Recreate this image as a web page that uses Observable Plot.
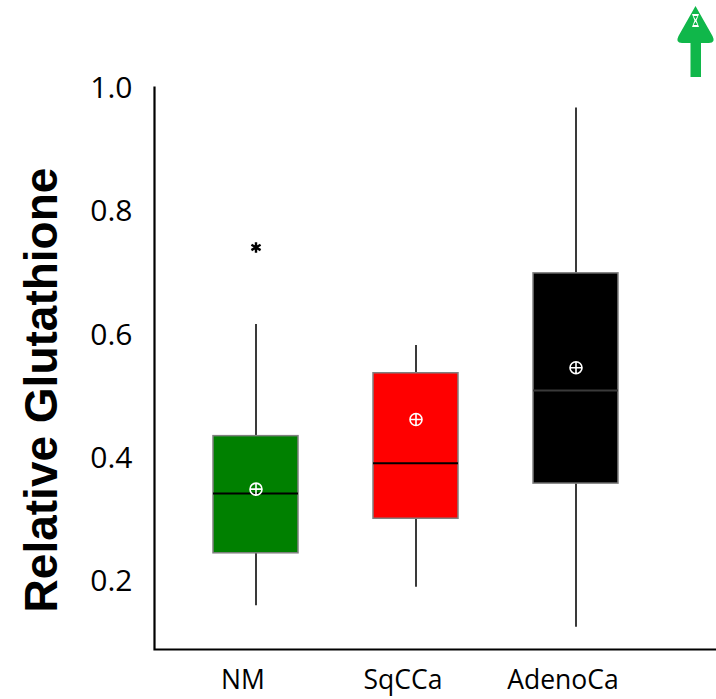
<!DOCTYPE html>
<html>
<head>
<meta charset="utf-8">
<script src="https://cdn.jsdelivr.net/npm/d3@7"></script>
<script src="https://cdn.jsdelivr.net/npm/@observablehq/plot@0.6"></script>
<style>
  html, body { margin: 0; padding: 0; background: #fff; }
  #wrap { position: relative; width: 716px; height: 699px; }
  #arrow { position: absolute; left: 0; top: 0; }
</style>
</head>
<body>
<div id="wrap">
  <div id="chart"></div>
  <svg id="arrow" width="716" height="90" viewBox="0 0 716 90">
    <path d="M695.5,6 L712.5,36 Q716,43 709,43 L701,43 L701,77 L690.5,77 L690.5,43 L682,43 Q675,43 678.5,36 Z" fill="#10b74a"/>
    <path d="M692,14 L699,14 L696.5,20.5 L699,27 L692,27 L694.5,20.5 Z" fill="#fff"/>
    <path d="M693.5,16 L697.5,16 L695.5,19.5 Z M693.5,25 L697.5,25 L695.5,21.5 Z" fill="#10b74a"/>
  </svg>
</div>
<script>
const categories = ["NM", "SqCCa", "AdenoCa"];
const whiskerLow = [0.161, 0.191, 0.126];
const q1 = [0.246, 0.302, 0.359];
const median = [0.343, 0.392, 0.510];
const q3 = [0.436, 0.538, 0.700];
const whiskerHigh = [0.617, 0.583, 0.968];
const mean = [0.350, 0.463, 0.547];
const outlierCategory = ["NM"];
const outlierValue = [0.742];
const boxColors = ["#008000", "#ff0000", "#000000"];
const medianColors = ["#000000", "#000000", "#3a3a3a"];
const yTicks = [0.2, 0.4, 0.6, 0.8, 1.0];
const yLabel = "Relative Glutathione";

const boxes = categories.map((c, i) => ({
  cat: c, lo: whiskerLow[i], q1: q1[i], med: median[i], q3: q3[i],
  hi: whiskerHigh[i], mean: mean[i], color: boxColors[i], medColor: medianColors[i]
}));
const outliers = outlierCategory.map((c, i) => ({cat: c, value: outlierValue[i]}));

const W = 716, H = 699;
const mL = 154, mR = 0, mT = 86, mB = 50;
const frameW = W - mL - mR, frameH = H - mT - mB;

const crossCircle = {
  draw(ctx, size) {
    const r = Math.sqrt(size / Math.PI);
    ctx.moveTo(r, 0);
    ctx.arc(0, 0, r, 0, 2 * Math.PI);
    ctx.moveTo(-r, 0); ctx.lineTo(r, 0);
    ctx.moveTo(0, -r); ctx.lineTo(0, r);
  }
};

const chart = Plot.plot({
  width: W,
  height: H,
  marginLeft: mL,
  marginRight: mR,
  marginTop: mT,
  marginBottom: mB,
  style: {fontFamily: "'Open Sans', sans-serif", color: "#000", background: "#fff"},
  x: {type: "band", domain: categories, range: [175, 655], paddingInner: 0.47, paddingOuter: 0.235},
  y: {domain: [0.09, 1.003]},
  color: {type: "identity"},
  marks: [
    Plot.frame({stroke: "#000", strokeWidth: 2.2, strokeDasharray: `0 ${frameW + frameH} ${frameW + frameH}`}),
    Plot.axisY({ticks: yTicks, tickFormat: d3.format(".1f"), tickSize: 0, tickPadding: 22, fontSize: 30, label: null}),
    Plot.axisX({tickSize: 0, tickPadding: 21, fontSize: 26.5, label: null, dx: -13}),
    Plot.text([yLabel], {frameAnchor: "left", textAnchor: "middle", rotate: -90, dx: -112, dy: 22, fontSize: 46, fontWeight: "bold", fontFamily: "'Liberation Sans', Arial, sans-serif", fill: "#000"}),
    Plot.ruleX(boxes, {x: "cat", y1: "lo", y2: "q1", stroke: "#3a3a3a", strokeWidth: 2}),
    Plot.ruleX(boxes, {x: "cat", y1: "q3", y2: "hi", stroke: "#3a3a3a", strokeWidth: 2}),
    Plot.barY(boxes, {x: "cat", y1: "q1", y2: "q3", fill: "color", stroke: "#808080", strokeWidth: 1.5}),
    Plot.tickY(boxes, {x: "cat", y: "med", stroke: "medColor", strokeWidth: 2}),
    Plot.dot(boxes, {x: "cat", y: "mean", symbol: crossCircle, r: 6, stroke: "#fff", strokeWidth: 1.6, fill: "none"}),
    Plot.dot(outliers, {x: "cat", y: "value", symbol: "asterisk", r: 5, stroke: "#000", strokeWidth: 2.4})
  ]
});
document.getElementById("chart").appendChild(chart);
</script>
</body>
</html>
